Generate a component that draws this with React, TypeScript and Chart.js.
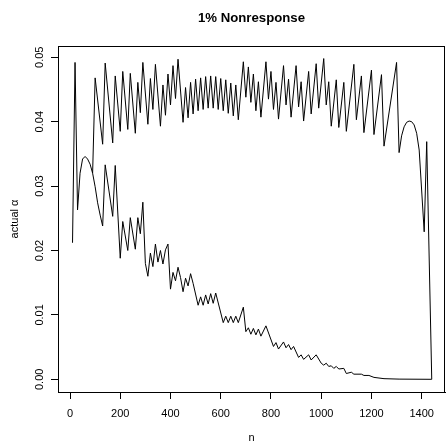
import { useEffect, useRef } from "react";
import { Chart, registerables } from "chart.js";
Chart.register(...registerables);

const chartTitle = "1% Nonresponse";
const xTitle = "n";
const yTitle = "actual \u03b1";

const xTicks = [0, 200, 400, 600, 800, 1000, 1200, 1400];
const xTickLabels = ["0", "200", "400", "600", "800", "1000", "1200", "1400"];
const yTicks = [0, 0.01, 0.02, 0.03, 0.04, 0.05];
const yTickLabels = ["0.00", "0.01", "0.02", "0.03", "0.04", "0.05"];

const lowerN = [
  10, 20, 30, 40, 50, 60, 70, 80, 90, 100, 110, 120, 130, 140, 170, 180, 200, 210, 230, 240,
  260, 270, 280, 290, 300, 310, 320, 330, 340, 350, 360, 370, 380, 390, 400, 410, 420, 430, 440, 450,
  460, 470, 480, 490, 510, 520, 530, 540, 550, 560, 570, 580, 610, 620, 630, 640, 650, 660, 670, 690,
  700, 710, 720, 730, 740, 750, 760, 780, 810, 820, 830, 850, 860, 870, 880, 890, 910, 920, 930, 950,
  960, 980, 1000, 1010, 1020, 1030, 1040, 1050, 1060, 1070, 1090, 1100, 1120, 1130, 1160, 1170, 1190, 1210, 1250, 1310,
  1440,
];
const lowerAlpha = [
  0.0212, 0.0492, 0.0263, 0.032, 0.0342, 0.0346, 0.0342, 0.0334, 0.032, 0.0299, 0.0274, 0.0255, 0.0238, 0.0333, 0.0253, 0.0332, 0.0188, 0.0245, 0.02, 0.0251,
  0.0202, 0.0251, 0.0226, 0.0275, 0.018, 0.016, 0.0196, 0.0175, 0.021, 0.0182, 0.02, 0.0179, 0.0201, 0.021, 0.014, 0.0166, 0.0153, 0.0174, 0.0158, 0.0136,
  0.0157, 0.0145, 0.0164, 0.0149, 0.0115, 0.0128, 0.0115, 0.0131, 0.0117, 0.0133, 0.0118, 0.0134, 0.0088, 0.0098, 0.0088, 0.0098, 0.0088, 0.0098, 0.0088, 0.0112,
  0.0074, 0.008, 0.007, 0.0079, 0.0069, 0.0078, 0.0067, 0.0083, 0.0051, 0.0057, 0.0047, 0.0058, 0.0049, 0.0054, 0.0046, 0.0051, 0.0034, 0.0038, 0.0031, 0.0038,
  0.003, 0.0038, 0.0025, 0.0022, 0.0025, 0.002, 0.0021, 0.0017, 0.002, 0.0016, 0.0017, 0.0009, 0.0011, 0.0008, 0.0008, 0.0006, 0.0006, 0.0003, 0.0001, 0.00003,
  0,
];

const upperN = [
  90, 100, 130, 140, 170, 180, 200, 210, 230, 240, 260, 270, 280, 290, 310, 320, 330, 340, 360, 370,
  380, 390, 400, 410, 420, 430, 450, 460, 470, 480, 490, 500, 510, 520, 530, 540, 550, 560, 570, 580,
  590, 600, 610, 620, 630, 640, 650, 660, 670, 690, 700, 710, 720, 730, 740, 750, 760, 780, 790, 800,
  810, 820, 830, 850, 860, 870, 880, 900, 910, 920, 930, 950, 960, 980, 990, 1010, 1020, 1030, 1040, 1060,
  1070, 1090, 1100, 1130, 1140, 1160, 1170, 1200, 1210, 1240, 1250, 1300, 1310, 1320, 1330, 1340, 1350, 1360, 1370, 1380,
  1390, 1410, 1420, 1440,
];
const upperAlpha = [
  0.032, 0.0468, 0.0365, 0.0491, 0.0367, 0.0471, 0.0385, 0.0478, 0.0388, 0.0475, 0.0382, 0.0461, 0.0414, 0.0492, 0.0396, 0.0467, 0.0419, 0.0489, 0.0393, 0.0457,
  0.041, 0.0474, 0.0426, 0.0487, 0.0436, 0.0497, 0.0399, 0.0453, 0.0406, 0.0461, 0.0412, 0.0466, 0.0417, 0.0468, 0.0419, 0.047, 0.0421, 0.0471, 0.0421, 0.047,
  0.0419, 0.0467, 0.0417, 0.0465, 0.0413, 0.046, 0.0409, 0.0457, 0.0403, 0.0493, 0.0438, 0.0485, 0.043, 0.0474, 0.0417, 0.0462, 0.0407, 0.0493, 0.0435, 0.0478,
  0.0419, 0.0461, 0.0404, 0.0487, 0.0426, 0.0466, 0.0407, 0.0487, 0.0423, 0.0462, 0.0401, 0.0478, 0.0412, 0.049, 0.0421, 0.0498, 0.0426, 0.0462, 0.0393, 0.0465,
  0.0391, 0.0461, 0.0385, 0.0489, 0.0403, 0.0471, 0.0383, 0.048, 0.038, 0.0473, 0.0362, 0.0492, 0.0352, 0.0378, 0.0392, 0.0399, 0.0401, 0.04, 0.0395, 0.0382,
  0.0356, 0.0229, 0.0369, 0,
];

const FONT = "'Liberation Sans', Arial, Helvetica, sans-serif";

export default function App() {
  const ref = useRef<HTMLCanvasElement>(null);
  useEffect(() => {
    document.body.style.margin = "0";
    const canvas = ref.current;
    if (!canvas) return;

    const textPlugin = {
      id: "rText",
      afterDraw(chart: any) {
        const c = chart.ctx;
        const a = chart.chartArea;
        const xs = chart.scales.x;
        const ys = chart.scales.y;
        c.save();
        c.strokeStyle = "#000";
        c.lineWidth = 1;
        c.strokeRect(Math.round(a.left) + 0.5, Math.round(a.top) + 0.5, Math.round(a.right - a.left) - 1, Math.round(a.bottom - a.top));
        c.fillStyle = "#000";
        c.font = `bold 13.2px ${FONT}`;
        c.textAlign = "center";
        c.textBaseline = "middle";
        c.fillText(chartTitle, (a.left + a.right) / 2, 18.5);
        c.font = `11px ${FONT}`;
        xTicks.forEach((v, i) => {
          c.fillText(xTickLabels[i], xs.getPixelForValue(v), 413.5);
        });
        c.fillText(xTitle, (a.left + a.right) / 2, 438);
        yTicks.forEach((v, i) => {
          c.save();
          c.translate(40, ys.getPixelForValue(v));
          c.rotate(-Math.PI / 2);
          c.fillText(yTickLabels[i], 0, 0);
          c.restore();
        });
        c.save();
        c.translate(15, (a.top + a.bottom) / 2);
        c.rotate(-Math.PI / 2);
        c.fillText(yTitle, 0, 0);
        c.restore();
        c.restore();
      },
    };

    const chart = new Chart(canvas, {
      type: "line",
      data: {
        datasets: [
          {
            data: lowerN.map((n, i) => ({ x: n, y: lowerAlpha[i] })),
            borderColor: "#000",
            borderWidth: 1,
            pointRadius: 0,
            fill: false,
            tension: 0,
          },
          {
            data: upperN.map((n, i) => ({ x: n, y: upperAlpha[i] })),
            borderColor: "#000",
            borderWidth: 1,
            pointRadius: 0,
            fill: false,
            tension: 0,
          },
        ],
      },
      options: {
        responsive: false,
        animation: false,
        devicePixelRatio: 1,
        layout: { padding: { top: 46, right: 1, left: 0, bottom: 0 } },
        plugins: { legend: { display: false }, tooltip: { enabled: false }, title: { display: false } },
        scales: {
          x: {
            type: "linear",
            position: "bottom",
            min: -47.8,
            max: 1492.8,
            afterFit: (s: any) => {
              s.height = 55;
            },
            afterBuildTicks: (s: any) => {
              s.ticks = xTicks.map((v) => ({ value: v }));
            },
            ticks: { display: false },
            grid: { display: true, drawOnChartArea: false, drawTicks: true, tickLength: 7, color: "#000", tickColor: "#000", lineWidth: 1 },
            border: { display: true, color: "#000", width: 1 },
          },
          y: {
            type: "linear",
            position: "left",
            min: -0.00197,
            max: 0.05175,
            afterFit: (s: any) => {
              s.width = 58;
            },
            afterBuildTicks: (s: any) => {
              s.ticks = yTicks.map((v) => ({ value: v }));
            },
            ticks: { display: false },
            grid: { display: true, drawOnChartArea: false, drawTicks: true, tickLength: 7, color: "#000", tickColor: "#000", lineWidth: 1 },
            border: { display: true, color: "#000", width: 1 },
          },
        },
      },
      plugins: [textPlugin],
    });
    return () => chart.destroy();
  }, []);
  return (
    <div style={{ width: 446, height: 447, background: "#fff" }}>
      <canvas ref={ref} width={446} height={447} style={{ display: "block" }} />
    </div>
  );
}
